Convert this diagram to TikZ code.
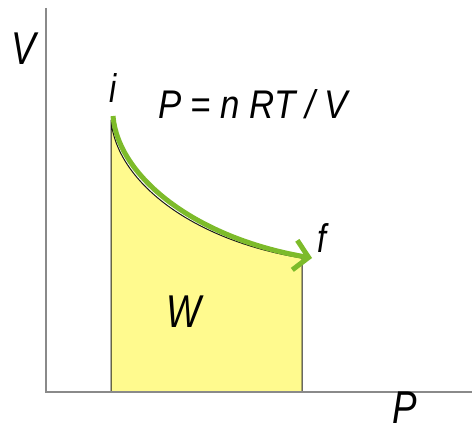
\documentclass[tikz,border=0pt]{standalone}
\usepackage{fontspec}
\setmainfont{Liberation Sans}
\usetikzlibrary{arrows.meta}
\definecolor{fillyellow}{HTML}{FFFA8E}
\definecolor{curvegreen}{HTML}{7DBB2A}
\definecolor{axisgray}{HTML}{8A8A8A}
\newcommand{\cnd}[1]{\scalebox{0.8}[1]{#1}}
\newcommand{\cndeq}[1]{\scalebox{0.87}[1]{#1}}
\begin{document}
\begin{tikzpicture}[x=1pt,y=-1pt,
  biglab/.style={font=\fontsize{46}{46}\selectfont\itshape, inner sep=0, anchor=base},
  smalllab/.style={font=\fontsize{40}{40}\selectfont\itshape, inner sep=0, anchor=base},
  axisline/.style={draw=axisgray, line width=1.5pt},
  region/.style={fill=fillyellow, draw=black!90, line width=1pt},
  process/.style={draw=curvegreen, line width=5pt, -{Straight Barb[length=14pt,width=30pt]}}]
\useasboundingbox (0,0) rectangle (472,433);
\coordinate (O) at (46,392);
\coordinate (Ytop) at (46,8);
\coordinate (Xend) at (472,392);
\coordinate (A) at (111,392);
\coordinate (B) at (302,392);
\coordinate (I) at (111,120);
\coordinate (F) at (302,258);
\coordinate (Gi) at (113,116);
\coordinate (Gf) at (312,258);
\path[region] (A) -- (I) .. controls (116,180) and (190,240) .. (F) -- (B) -- cycle;
\draw[axisline] (Ytop) -- (O) -- (Xend);
\draw[process] (Gi) .. controls (118,176) and (194,238) .. (Gf);
\node[biglab] (vlab) at (24,65) {\cnd{V}};
\node[biglab] (plab) at (405,423) {\cnd{P}};
\node[biglab] (wlab) at (184,327) {\cnd{W}};
\node[smalllab] (ilab) at (113,103) {\cnd{i}};
\node[smalllab] (flab) at (322,253) {\cnd{f}};
\node[smalllab] (eq) at (253,119) {\cndeq{P = n RT / V}};
\end{tikzpicture}
\end{document}
